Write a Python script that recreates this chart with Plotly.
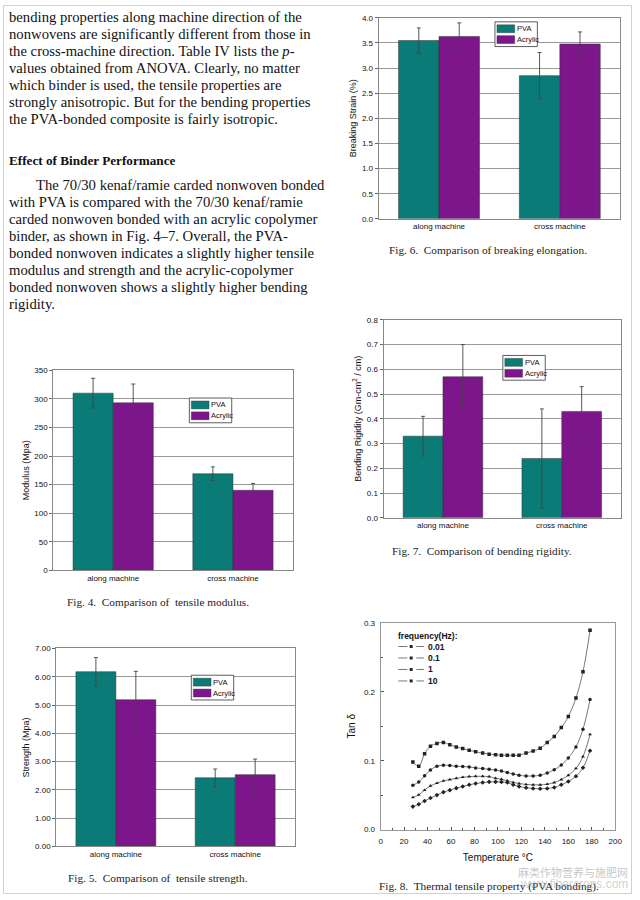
import plotly.graph_objects as go

W, H = 640, 900
def px(x): return x / W
def py(y): return 1 - y / H

categories = ["along machine", "cross machine"]
series_names = ["PVA", "Acrylic"]
colors = {"PVA": "#0a7b76", "Acrylic": "#7c168a"}

# Fig 6 breaking strain (%)
strain_pva = [3.55, 2.85]
strain_pva_err = [0.25, 0.46]
strain_acr = [3.63, 3.48]
strain_acr_err = [0.27, 0.24]

# Fig 7 bending rigidity
rig_pva = [0.33, 0.24]
rig_pva_err = [0.08, 0.20]
rig_acr = [0.57, 0.43]
rig_acr_err = [0.13, 0.10]

# Fig 4 modulus (Mpa)
mod_pva = [310, 169]
mod_pva_err = [26, 12]
mod_acr = [293, 140]
mod_acr_err = [33, 12]

# Fig 5 strength (Mpa)
str_pva = [6.18, 2.43]
str_pva_err = [0.50, 0.31]
str_acr = [5.19, 2.54]
str_acr_err = [1.0, 0.55]

# Fig 8 tan delta vs temperature
temperature = [27.5, 32.5, 37.5, 42.5, 48, 53.5, 59, 64.5, 70, 75.5, 81, 87, 92.5, 98,
               103, 108, 113, 118, 124, 130, 136, 142, 148, 154, 160, 166.5, 172.5, 178.5]
freq_labels = ["0.01", "0.1", "1", "10"]
tan_001 = [0.098, 0.092, 0.110, 0.121, 0.125, 0.1265, 0.123, 0.120, 0.1175, 0.115, 0.113, 0.111,
           0.1095, 0.1085, 0.108, 0.1078, 0.1078, 0.108, 0.111, 0.114, 0.118, 0.1265, 0.135,
           0.148, 0.164, 0.191, 0.229, 0.289]
tan_01 = [0.0645, 0.069, 0.078, 0.0864, 0.092, 0.0935, 0.093, 0.092, 0.0915, 0.091, 0.0895,
          0.0885, 0.0875, 0.0864, 0.085, 0.083, 0.0808, 0.0788, 0.0778, 0.0778, 0.0788, 0.0821,
          0.0869, 0.0936, 0.104, 0.120, 0.1456, 0.1886]
tan_1 = [0.0467, 0.0506, 0.0573, 0.0635, 0.0673, 0.0707, 0.0726, 0.0745, 0.076, 0.0769, 0.0774,
         0.0774, 0.0769, 0.0745, 0.073, 0.071, 0.0685, 0.0669, 0.0655, 0.065, 0.065, 0.066,
         0.0683, 0.0726, 0.0788, 0.0888, 0.106, 0.138]
tan_10 = [0.0334, 0.0368, 0.0416, 0.0459, 0.0501, 0.0544, 0.0573, 0.0602, 0.0626, 0.065,
          0.0669, 0.0683, 0.0693, 0.0693, 0.069, 0.0683, 0.065, 0.0626, 0.0607, 0.0597, 0.0592,
          0.0597, 0.0612, 0.065, 0.0698, 0.0774, 0.0898, 0.1145]

text_lines_1 = [
    "bending properties along machine direction of the",
    "nonwovens are significantly different from those in",
    "the cross-machine direction. Table IV lists the <i>p</i>-",
    "values obtained from ANOVA. Clearly, no matter",
    "which binder is used, the tensile properties are",
    "strongly anisotropic. But for the bending properties",
    "the PVA-bonded composite is fairly isotropic.",
]
heading = "Effect of Binder Performance"
text_lines_2 = [
    "The 70/30 kenaf/ramie carded nonwoven bonded",
    "with PVA is compared with the 70/30 kenaf/ramie",
    "carded nonwoven bonded with an acrylic copolymer",
    "binder, as shown in Fig. 4\u20137. Overall, the PVA-",
    "bonded nonwoven indicates a slightly higher tensile",
    "modulus and strength and the acrylic-copolymer",
    "bonded nonwoven shows a slightly higher bending",
    "rigidity.",
]

SANS = "Liberation Sans, Arial, sans-serif"
SERIF = "Liberation Serif, Times New Roman, serif"

fig = go.Figure()

bar_sets = [
    ("", strain_pva, strain_pva_err, strain_acr, strain_acr_err),
    ("2", rig_pva, rig_pva_err, rig_acr, rig_acr_err),
    ("3", mod_pva, mod_pva_err, mod_acr, mod_acr_err),
    ("4", str_pva, str_pva_err, str_acr, str_acr_err),
]
for suf, pv, pve, ac, ace in bar_sets:
    for name, vals, errs in [("PVA", pv, pve), ("Acrylic", ac, ace)]:
        fig.add_trace(go.Bar(
            x=categories, y=vals, name=name, showlegend=False,
            marker=dict(color=colors[name], line=dict(color="#333", width=0.5)),
            error_y=dict(type="data", array=errs, color="#444", thickness=0.9, width=2),
            xaxis="x" + suf, yaxis="y" + suf,
        ))

markers = ["square", "circle", "triangle-up", "diamond"]
for lab, vals, sym in zip(freq_labels, [tan_001, tan_01, tan_1, tan_10], markers):
    fig.add_trace(go.Scatter(
        x=temperature, y=vals, name=lab, mode="lines+markers", showlegend=False,
        line=dict(color="#777", width=1, shape="spline"),
        marker=dict(color="#222", size=3.5, symbol=sym),
        xaxis="x5", yaxis="y5",
    ))

TF = dict(family=SANS, size=8, color="#111")

def bar_axes(xdom, ydom, yrange, dtick, fmt, title):
    xa = dict(domain=[px(xdom[0]), px(xdom[1])], showline=True, mirror=True,
              linecolor="#888", linewidth=1, ticks="", showgrid=False,
              tickfont=TF, fixedrange=True)
    ya = dict(domain=[py(ydom[1]), py(ydom[0])], range=yrange, dtick=dtick,
              tickformat=fmt, showline=True, mirror=True, linecolor="#888",
              linewidth=1, ticks="outside", ticklen=3, tickcolor="#666",
              showgrid=True, gridcolor="#999", gridwidth=1,
              tickfont=TF,
              title=dict(text=title, font=dict(family=SANS, size=9, color="#111"), standoff=3))
    return xa, ya

x1, y1 = bar_axes((382, 627), (14, 217), [0, 4.0], 0.5, ".1f", "Breaking Strain (%)")
x2, y2 = bar_axes((387, 628), (319, 519), [0, 0.8], 0.1, ".1f", "Bending Rigidity (Gm-cm<sup>2</sup> / cm)")
x3, y3 = bar_axes((52, 295), (370, 572), [0, 350], 50, "d", "Modulus (Mpa)")
x4, y4 = bar_axes((55, 297), (651, 851), [0, 7.0], 1, ".2f", "Strength (Mpa)")

x5 = dict(domain=[px(384), px(622)], range=[0, 200], dtick=20, showline=True, mirror=True,
          linecolor="#999", linewidth=1, ticks="inside", ticklen=3, tickcolor="#555",
          minor=dict(ticks="inside", dtick=10, ticklen=2, tickcolor="#555"),
          showgrid=False, zeroline=False, tickfont=TF, ticklabelstandoff=4,
          title=dict(text="Temperature \u00b0C", font=dict(family=SANS, size=10, color="#111"), standoff=8))
y5 = dict(domain=[py(834), py(625)], range=[0, 0.3], dtick=0.1, tickformat=".1f",
          showline=True, mirror=True, linecolor="#999", linewidth=1, ticks="inside",
          ticklen=3, tickcolor="#555",
          minor=dict(ticks="inside", dtick=0.05, ticklen=2, tickcolor="#555"),
          showgrid=False, zeroline=False, tickfont=TF, ticklabelstandoff=3,
          title=dict(text="Tan \u03b4", font=dict(family=SANS, size=10, color="#111"), standoff=6))

def P(x, y, text, size, family=SERIF, color="#111", xanchor="left"):
    return dict(x=px(x), y=py(y), xref="paper", yref="paper", text=text, showarrow=False,
                xanchor=xanchor, yanchor="middle", borderpad=0,
                font=dict(family=family, size=size, color=color))

anns = []
shapes = []
BODY = 14.7
for i, line in enumerate(text_lines_1):
    anns.append(P(6, 13 + i * 17.2, line, BODY))
anns.append(P(6, 158, "<b>" + heading + "</b>", 13.2))
for i, line in enumerate(text_lines_2):
    anns.append(P(33 if i == 0 else 6, 183 + i * 17.2, line, BODY))

captions = [
    (493, 248, "Fig. 6.  Comparison of breaking elongation."),
    (487, 553, "Fig. 7.  Comparison of bending rigidity."),
    (158, 604, "Fig. 4.  Comparison of  tensile modulus."),
    (158, 883, "Fig. 5.  Comparison of  tensile strength."),
    (494, 891, "Fig. 8.  Thermal tensile property (PVA bonding)."),
]
for cx, cy, t in captions:
    anns.append(P(cx, cy, t, 11.3, color="#222", xanchor="center"))

# compact legends for the bar charts (box, swatches, labels)
for lx, ly in [(500, 18), (508, 355), (190, 398), (192, 678)]:
    w, h = 43, 25
    shapes.append(dict(type="rect", xref="paper", yref="paper", x0=px(lx), x1=px(lx + w),
                       y0=py(ly + h), y1=py(ly), line=dict(color="#333", width=0.8),
                       fillcolor="white", layer="above"))
    for k, name in enumerate(series_names):
        cy = ly + 7 + k * 11
        shapes.append(dict(type="rect", xref="paper", yref="paper", x0=px(lx + 2), x1=px(lx + 20),
                           y0=py(cy + 4), y1=py(cy - 4), line=dict(color="#333", width=0.4),
                           fillcolor=colors[name], layer="above"))
        anns.append(P(lx + 21, cy, name, 7.5, family=SANS, color="#111"))

# compact legend for Fig. 8
anns.append(P(401, 638, "<b>frequency(Hz):</b>", 8.5, family=SANS))
for k, (lab, sym) in enumerate(zip(freq_labels, markers)):
    cy = 649 + k * 11.6
    shapes.append(dict(type="line", xref="paper", yref="paper", x0=px(402), x1=px(428),
                       y0=py(cy), y1=py(cy), line=dict(color="#777", width=1, dash="dash")))
    shapes.append(dict(type="rect", xref="paper", yref="paper", x0=px(413.5), x1=px(416.5),
                       y0=py(cy + 1.5), y1=py(cy - 1.5), line=dict(width=0),
                       fillcolor="#222", layer="above"))
    anns.append(P(431, cy, "<b>" + lab + "</b>", 8.5, family=SANS))

anns.append(P(636, 877, "\u9ebb\u7c7b\u4f5c\u7269\u8425\u517b\u4e0e\u65bd\u80a5\u7f51", 11,
              family="Noto Sans CJK SC", color="rgba(160,160,160,0.6)", xanchor="right"))
anns.append(P(636, 889, "www.fibercrops.com", 12, family=SANS,
              color="rgba(160,160,160,0.5)", xanchor="right"))

shapes.append(dict(type="rect", xref="paper", yref="paper", x0=px(1.5), x1=px(638.5),
                   y0=py(898.5), y1=py(1.5), line=dict(color="#d0d0d0", width=1)))

fig.update_layout(
    width=W, height=H, margin=dict(l=0, r=0, t=0, b=0),
    paper_bgcolor="white", plot_bgcolor="white",
    barmode="group", bargap=0.33, bargroupgap=0,
    xaxis=dict(x1, anchor="y"), yaxis=dict(y1, anchor="x"),
    xaxis2=dict(x2, anchor="y2"), yaxis2=dict(y2, anchor="x2"),
    xaxis3=dict(x3, anchor="y3"), yaxis3=dict(y3, anchor="x3"),
    xaxis4=dict(x4, anchor="y4"), yaxis4=dict(y4, anchor="x4"),
    xaxis5=dict(x5, anchor="y5"), yaxis5=dict(y5, anchor="x5"),
    annotations=anns,
    shapes=shapes,
    showlegend=False,
)

post = (
    "document.documentElement.style.margin='0';"
    "document.documentElement.style.padding='0';"
    "document.documentElement.style.overflow='hidden';"
    "document.body.style.margin='0';document.body.style.padding='0';"
    "document.body.style.overflow='hidden';"
    "var d=document.getElementById('{plot_id}');"
    "d.style.position='fixed';d.style.left='0px';d.style.top='0px';"
)
fig.write_html("out.html", config={"displayModeBar": False}, post_script=post)
